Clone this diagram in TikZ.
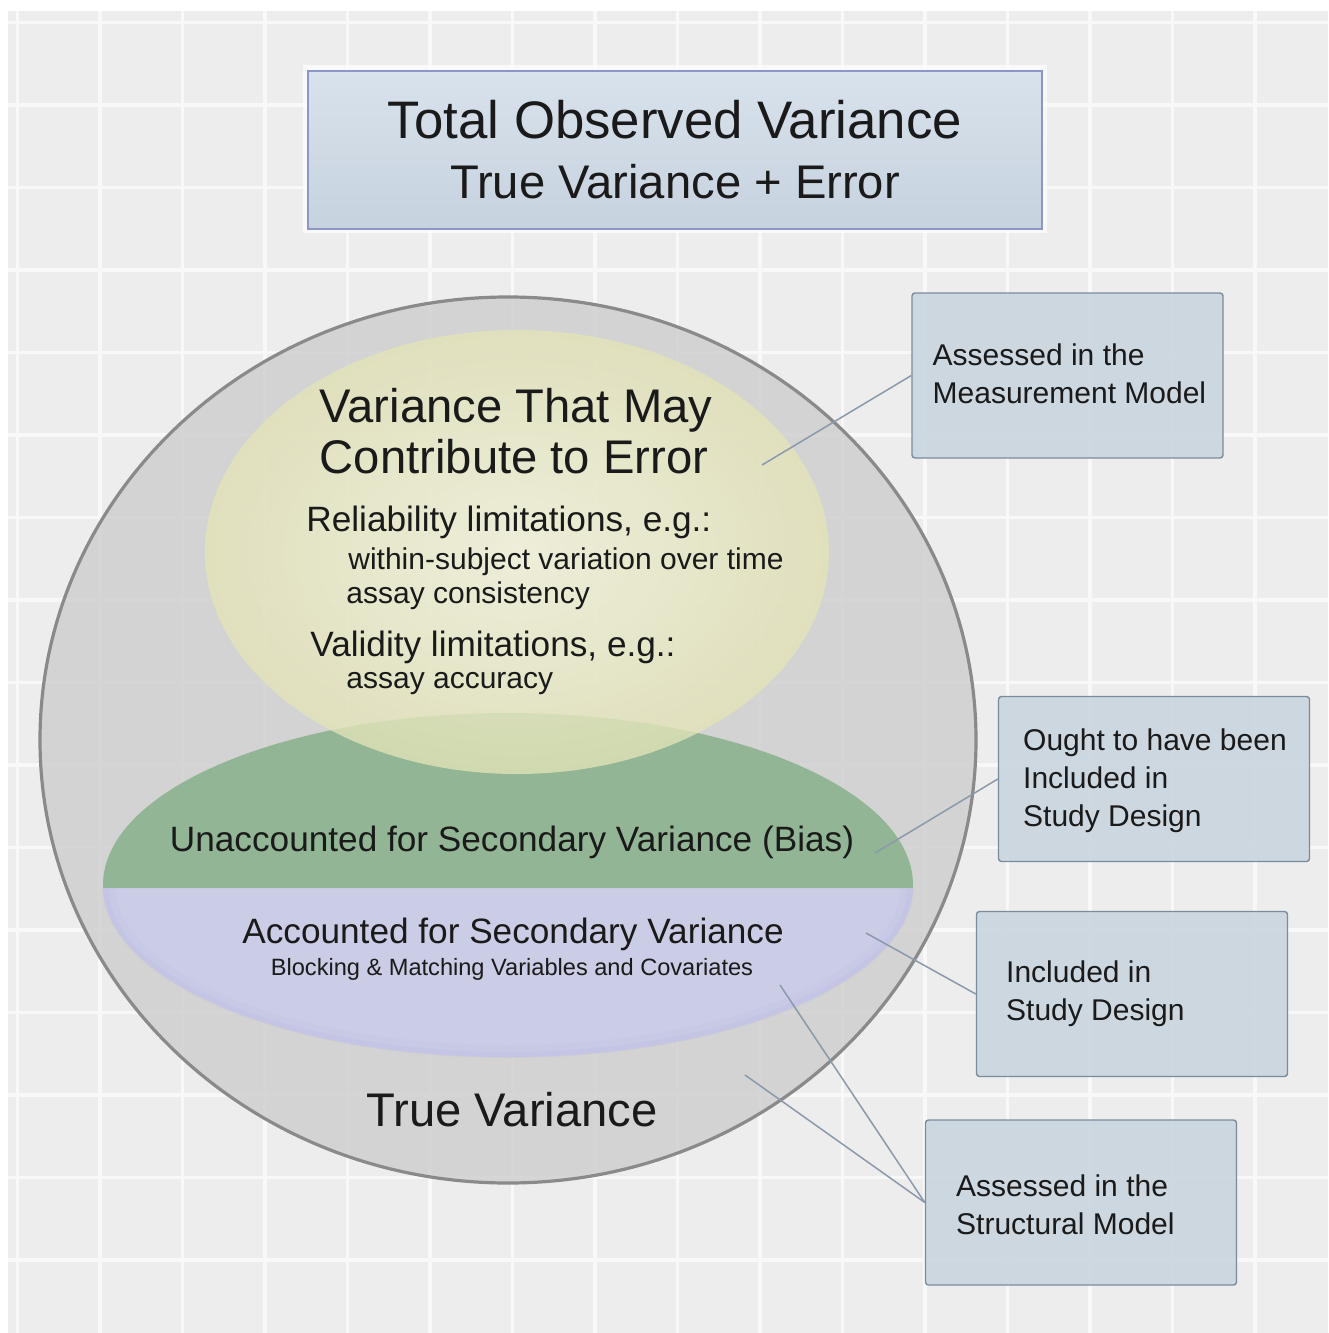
\documentclass[tikz,border=0pt]{standalone}
\usepackage{fontspec}
\setmainfont{Liberation Sans}
\definecolor{bggray}{RGB}{237,237,237}
\definecolor{gridwhite}{RGB}{248,248,248}
\definecolor{circfill}{RGB}{205,205,205}
\definecolor{circedge}{RGB}{138,138,138}
\definecolor{yelin}{RGB}{246,246,220}
\definecolor{yelout}{RGB}{228,228,184}
\definecolor{greenfill}{RGB}{143,180,146}
\definecolor{lavfill}{RGB}{203,204,230}
\definecolor{lavrim}{RGB}{180,182,230}
\definecolor{boxfill}{RGB}{200,212,222}
\definecolor{boxedge}{RGB}{122,140,156}
\definecolor{titletop}{RGB}{216,226,236}
\definecolor{titlebot}{RGB}{198,210,222}
\definecolor{titleedge}{RGB}{140,150,200}
\definecolor{connclr}{RGB}{138,153,172}
\definecolor{txt}{RGB}{26,26,26}
\begin{document}
\begin{tikzpicture}[x=0.5pt,y=-0.5pt,
  gridline/.style={draw=gridwhite,line width=1.8pt},
  txtnode/.style={inner sep=0pt,text=txt},
  hd/.style={txtnode,font=\fontsize{23.6pt}{28pt}\selectfont},
  sub/.style={txtnode,font=\fontsize{17.6pt}{21pt}\selectfont},
  item/.style={txtnode,font=\fontsize{15pt}{18pt}\selectfont},
  smalltxt/.style={txtnode,font=\fontsize{11.8pt}{14pt}\selectfont},
  infobox/.style={draw=boxedge,fill=boxfill,fill opacity=0.88,
    line width=0.7pt,rounded corners=1.5pt,minimum width=155.5pt,minimum height=82.5pt,inner sep=0pt},
  boxtext/.style={txtnode,align=left,anchor=west,font=\fontsize{15pt}{19pt}\selectfont},
  conn/.style={draw=connclr,line width=0.75pt}
]
\useasboundingbox (0,0) rectangle (1328,1333);
\fill[white] (0,0) rectangle (1328,1333);
\fill[bggray] (8,11) rectangle (1328,1333);
\foreach \k in {0,...,15} {
  \draw[gridline] ({17.5+82.5*\k},11) -- ({17.5+82.5*\k},1333);
  \draw[gridline] (8,{22.5+82.5*\k}) -- (1328,{22.5+82.5*\k});
}

% title box
\draw[white,line width=5pt,opacity=0.7] (308,70) rectangle (1042,228);
\node[draw=titleedge,line width=1pt,top color=titletop,bottom color=titlebot,
  minimum width=367pt,minimum height=79pt,align=center,text=txt,inner sep=0pt,
  font=\fontsize{26.4pt}{30pt}\selectfont] (title) at (675,150)
  {Total Observed Variance\\
   {\fontsize{23.6pt}{30pt}\selectfont True Variance + Error}};

% big circle
\draw[fill=circfill,fill opacity=0.8,draw=circedge,line width=1.6pt]
  (508,740) ellipse [x radius=234pt,y radius=221.5pt];

% green / lavender ellipse
\begin{scope}
  \clip (0,0) rectangle (1328,888);
  \fill[greenfill,opacity=0.95] (508,885) ellipse [x radius=202.5pt,y radius=86pt];
\end{scope}
\begin{scope}
  \clip (0,888) rectangle (1328,1333);
  \fill[lavfill,opacity=0.95] (508,885) ellipse [x radius=202.5pt,y radius=86pt];
  \draw[lavrim,line width=6pt,opacity=0.12] (508,885) ellipse [x radius=199.5pt,y radius=83pt];
  \draw[lavrim,line width=3pt,opacity=0.18] (508,885) ellipse [x radius=201.5pt,y radius=85pt];
\end{scope}

% yellow ellipse
\shade[inner color=yelin,outer color=yelout,opacity=0.78]
  (517,552) ellipse [x radius=156pt,y radius=111pt];

% texts
\node[hd,anchor=base] (h1) at (516,422) {Variance That May};
\node[hd,anchor=base] (h2) at (514,473) {Contribute to Error};
\node[sub,anchor=base west] (r1) at (306,531) {Reliability limitations, e.g.:};
\node[item,anchor=base west] (r2) at (348,569) {within-subject variation over time};
\node[item,anchor=base west] (r3) at (346,603) {assay consistency};
\node[sub,anchor=base west] (v1) at (310,656) {Validity limitations, e.g.:};
\node[item,anchor=base west] (v2) at (346,688) {assay accuracy};
\node[sub,anchor=base] (u1) at (512,851) {Unaccounted for Secondary Variance (Bias)};
\node[sub,anchor=base] (a1) at (513,943) {Accounted for Secondary Variance};
\node[smalltxt,anchor=base] (a2) at (512,975) {Blocking \& Matching Variables and Covariates};
\node[hd,anchor=base] (tv) at (512,1126) {True Variance};

% info boxes
\node[infobox] (m1) at (1067.5,375.5) {};
\node[boxtext] (t1) at ([xshift=10.5pt,yshift=1pt]m1.west) {Assessed in the\\Measurement Model};
\node[infobox] (m2) at (1154,779) {};
\node[boxtext] (t2) at ([xshift=12.5pt,yshift=-1pt]m2.west) {Ought to have been\\Included in\\Study Design};
\node[infobox] (m3) at (1132,994) {};
\node[boxtext] (t3) at ([xshift=15pt]m3.west) {Included in\\Study Design};
\node[infobox] (m4) at (1081,1202.5) {};
\node[boxtext] (t4) at ([xshift=15.5pt,yshift=-1pt]m4.west) {Assessed in the\\Structural Model};

% connectors
\coordinate (c1) at (762,465);
\coordinate (c2) at (875,853);
\coordinate (c3) at (866,933);
\coordinate (c4) at (780,985);
\coordinate (c5) at (745,1075);
\draw[conn] (c1) -- (m1.west);
\draw[conn] (c2) -- (m2.west);
\draw[conn] (c3) -- (m3.west);
\draw[conn] (c4) -- (m4.west);
\draw[conn] (c5) -- (m4.west);
\end{tikzpicture}
\end{document}
